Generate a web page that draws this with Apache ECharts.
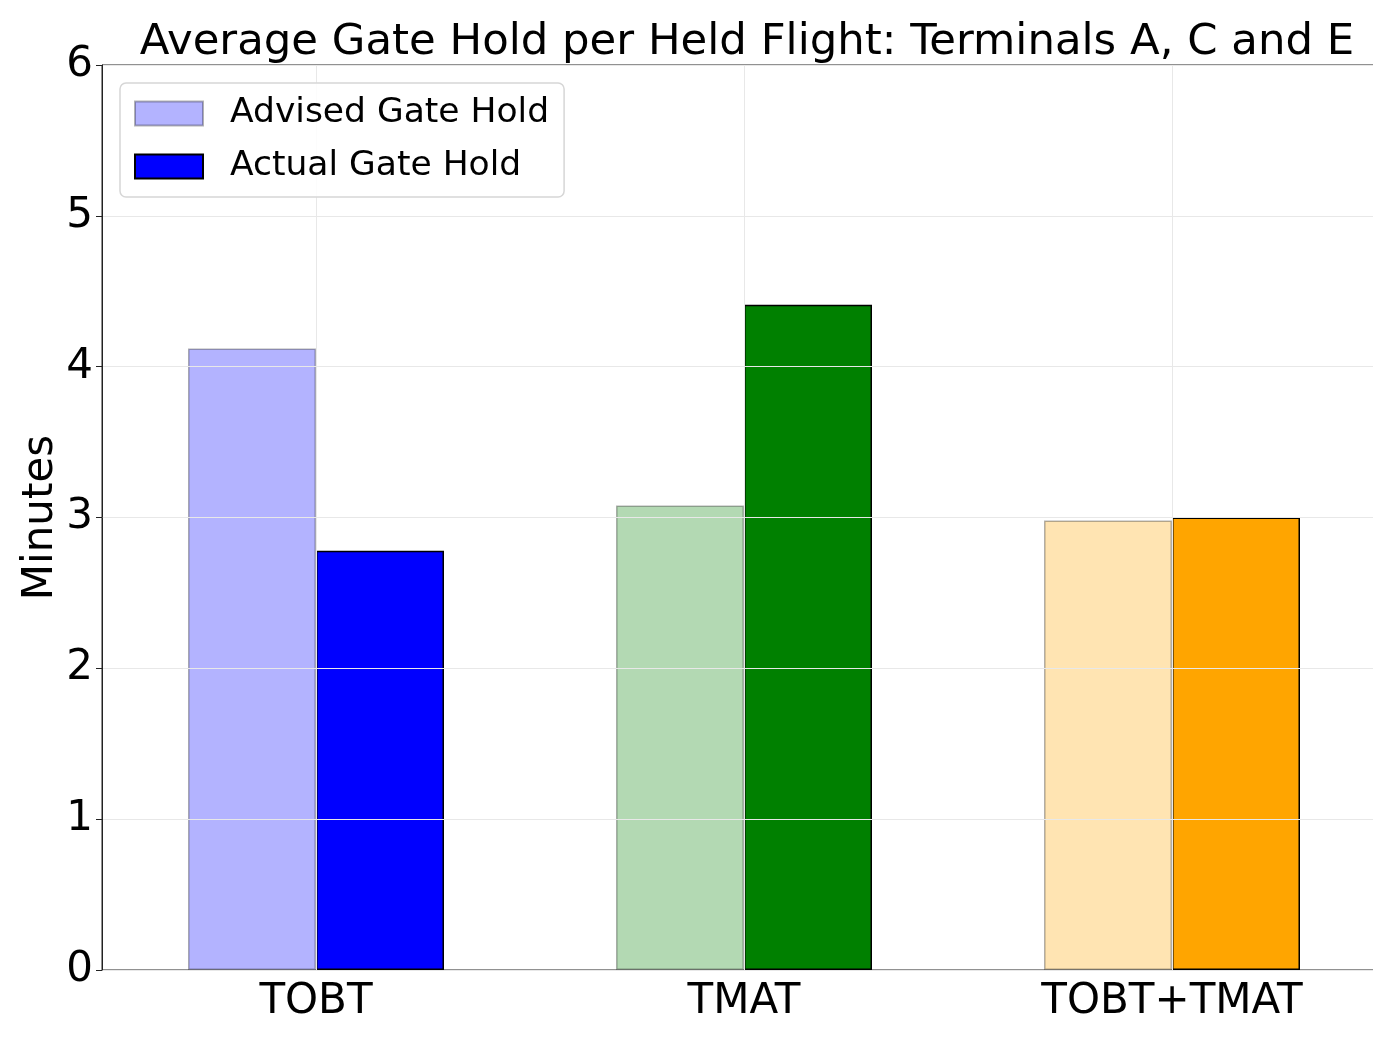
<!DOCTYPE html>
<html>
<head>
<meta charset="utf-8">
<script src="https://cdn.jsdelivr.net/npm/echarts@6/dist/echarts.min.js"></script>
<style>
  html, body { margin: 0; padding: 0; background: #fff; }
  #chart { width: 1373px; height: 1037px; }
</style>
</head>
<body>
<div id="chart"></div>
<script>
// data
const categories = ["TOBT", "TMAT", "TOBT+TMAT"];
const advisedHold = [4.12, 3.08, 2.98];
const actualHold = [2.78, 4.41, 3.0];
const advisedColors = ["#b3b3ff", "#b3d9b3", "#ffe4b2"];
const actualColors = ["#0000ff", "#008000", "#ffa500"];
const yTicks = [0, 1, 2, 3, 4, 5, 6];

const font = "DejaVu Sans";
const chart = echarts.init(document.getElementById("chart"));

const option = {
  animation: false,
  textStyle: { fontFamily: font },
  title: {
    text: "Average Gate Hold per Held Flight: Terminals A, C and E",
    left: 742,
    top: 16,
    textAlign: "center",
    textStyle: { fontFamily: font, fontSize: 43.4, fontWeight: "normal", color: "#000" },
  },
  legend: {
    orient: "vertical",
    left: 120,
    top: 83,
    z: 10,
    padding: [13, 15, 13, 14],
    itemWidth: 68,
    itemHeight: 24,
    itemGap: 18,
    icon: "rect",
    backgroundColor: "rgba(255,255,255,0.85)",
    borderColor: "#d6d6d6",
    borderWidth: 1.5,
    borderRadius: 6,
    textStyle: { fontFamily: font, fontSize: 34.5, color: "#000", padding: [0, 0, 0, 22] },
    data: ["Advised Gate Hold", "Actual Gate Hold"],
  },
  grid: {
    left: 102,
    top: 65,
    width: 1284,
    height: 905,
    outerBoundsMode: "none",
    show: true,
    borderColor: "#222",
    borderWidth: 1,
    backgroundColor: "transparent",
  },
  xAxis: {
    type: "category",
    data: categories,
    axisLine: { lineStyle: { color: "#222", width: 1 } },
    axisTick: { alignWithLabel: true, length: 6, lineStyle: { color: "#222" } },
    axisLabel: { fontFamily: font, fontSize: 42, color: "#000", margin: 11 },
    splitLine: { show: false },
  },
  yAxis: {
    type: "value",
    min: 0,
    max: 6,
    interval: 1,
    name: "Minutes",
    nameLocation: "middle",
    nameRotate: 90,
    nameGap: 40,
    nameMoveOverlap: false,
    nameTextStyle: { fontFamily: font, fontSize: 42, color: "#000" },
    axisLine: { show: true, lineStyle: { color: "#222", width: 1 } },
    axisTick: { show: true, length: 6, lineStyle: { color: "#222" } },
    axisLabel: {
      fontFamily: font, fontSize: 42, color: "#000", margin: 9,
      formatter: (v) => (yTicks.includes(v) ? String(v) : ""),
    },
    splitLine: { show: true, lineStyle: { color: "#e8e8e8", width: 1 } },
    z: 3,
  },
  series: [
    {
      name: "Advised Gate Hold",
      type: "bar",
      barWidth: 128,
      barGap: "0%",
      itemStyle: { color: advisedColors[0], borderColor: "rgba(0,0,0,0.3)", borderWidth: 1.5 },
      data: advisedHold.map((v, i) => ({
        value: v,
        itemStyle: { color: advisedColors[i], borderColor: "rgba(0,0,0,0.3)", borderWidth: 1.5 },
      })),
    },
    {
      name: "Actual Gate Hold",
      type: "bar",
      barWidth: 128,
      barGap: "0%",
      itemStyle: { color: actualColors[0], borderColor: "#000", borderWidth: 1.5 },
      data: actualHold.map((v, i) => ({
        value: v,
        itemStyle: { color: actualColors[i], borderColor: "#000", borderWidth: 1.5 },
      })),
    },
    {
      // vertical grid lines at the category centres
      name: "xgrid",
      type: "line",
      data: [],
      silent: true,
      markLine: {
        silent: true,
        symbol: "none",
        label: { show: false },
        lineStyle: { color: "#e8e8e8", width: 1, type: "solid" },
        data: categories.map((c) => ({ xAxis: c })),
      },
      z: 3,
    },
  ],
};

chart.setOption(option);
</script>
</body>
</html>
